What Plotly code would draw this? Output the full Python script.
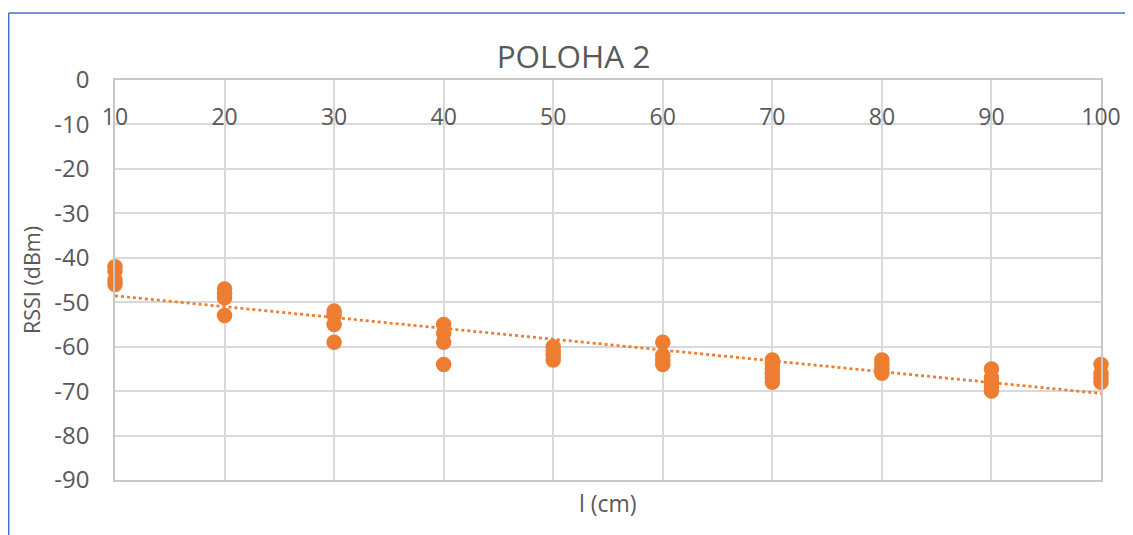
import numpy as np
import plotly.graph_objects as go

# Data
distance_cm = [10, 10, 10, 10,
               20, 20, 20, 20,
               30, 30, 30, 30,
               40, 40, 40, 40,
               50, 50, 50, 50,
               60, 60, 60, 60,
               70, 70, 70, 70, 70, 70,
               80, 80, 80, 80,
               90, 90, 90, 90, 90,
               100, 100, 100, 100]
rssi_dbm = [-42, -43, -45, -46,
            -47, -48, -49, -53,
            -52, -53, -55, -59,
            -55, -57, -59, -64,
            -60, -61, -62, -63,
            -59, -62, -63, -64,
            -63, -64, -65, -66, -67, -68,
            -63, -64, -65, -66,
            -65, -67, -68, -69, -70,
            -64, -66, -67, -68]
x_ticks = [10, 20, 30, 40, 50, 60, 70, 80, 90, 100]
y_ticks = [0, -10, -20, -30, -40, -50, -60, -70, -80, -90]

title_text = "POLOHA 2"
x_title = "l (cm)"
y_title = "RSSI (dBm)"

ORANGE = "#ED7D31"
TEXT = "#595959"
GRID = "#d9d9d9"
FONT = "Open Sans"

# Linear trendline (least squares)
slope, intercept = np.polyfit(distance_cm, rssi_dbm, 1)
trend_x = [min(x_ticks), max(x_ticks)]
trend_y = [slope * v + intercept for v in trend_x]

fig = go.Figure()
fig.add_trace(go.Scatter(
    x=trend_x, y=trend_y, mode="lines",
    line=dict(color=ORANGE, width=2.75, dash="dot"),
    cliponaxis=False, showlegend=False, hoverinfo="skip",
))
fig.add_trace(go.Scatter(
    x=distance_cm, y=rssi_dbm, mode="markers",
    marker=dict(color=ORANGE, size=15.5, line=dict(width=0)),
    cliponaxis=False, showlegend=False,
))

fig.update_layout(
    width=1125, height=527,
    margin=dict(l=107, r=32, t=72, b=55),
    paper_bgcolor="white", plot_bgcolor="white",
    font=dict(family=FONT, color=TEXT, size=22),
    title=dict(text=title_text, x=0.5027, xanchor="center", y=0.907, yanchor="middle",
               font=dict(family=FONT, size=31.5, color=TEXT)),
    xaxis=dict(
        range=[10, 100], tickvals=x_ticks, ticktext=[str(v) for v in x_ticks],
        side="top", ticklabelposition="inside", ticklabeloverflow="allow",
        ticklabelstandoff=31,
        showgrid=True, gridcolor=GRID, gridwidth=1.5,
        showline=True, linecolor="#c8c8c8", linewidth=1.5, mirror=True,
        zeroline=False, ticks="", tickfont=dict(size=23, color=TEXT),
    ),
    yaxis=dict(
        range=[-90, 0], tickvals=y_ticks, ticktext=[str(v) for v in y_ticks],
        showgrid=True, gridcolor=GRID, gridwidth=1.5,
        showline=True, linecolor="#c8c8c8", linewidth=1.5, mirror=True,
        zeroline=False, ticks="", ticklabelstandoff=19,
        tickfont=dict(size=24, color=TEXT),
    ),
    annotations=[
        dict(text=x_title, xref="paper", yref="paper", x=0.5, y=-0.0575,
             xanchor="center", yanchor="middle", showarrow=False,
             font=dict(family=FONT, size=23, color=TEXT)),
        dict(text=y_title, xref="paper", yref="paper", x=-0.0852, y=0.5,
             xanchor="center", yanchor="middle", showarrow=False, textangle=-90,
             font=dict(family=FONT, size=21.5, color=TEXT)),
    ],
    shapes=[
        dict(type="line", xref="paper", yref="paper", x0=-0.1078, x1=1.1,
             y0=1.1675, y1=1.1675, line=dict(color="#4472C4", width=1.5)),
        dict(type="line", xref="paper", yref="paper", x0=-0.1078, x1=-0.1078,
             y0=1.1675, y1=-0.3, line=dict(color="#4472C4", width=1.5)),
    ],
)

fig.write_html("out.html")
